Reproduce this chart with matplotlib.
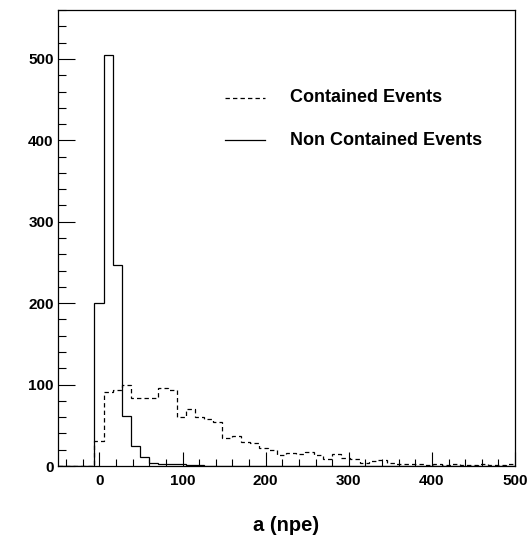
import matplotlib
matplotlib.use("Agg")
import matplotlib.pyplot as plt
import numpy as np
from matplotlib.ticker import MultipleLocator

# 50 bins of width 11 from -50 to 500
bin_edges = np.linspace(-50, 500, 51)

contained = [
    0, 0, 0, 0, 31, 91, 93, 100, 83, 84,
    83, 96, 93, 60, 70, 60, 58, 54, 35, 37,
    30, 28, 22, 20, 14, 16, 15, 17, 14, 8,
    15, 10, 8, 4, 6, 7, 4, 3, 2, 3,
    1, 2, 1, 2, 1, 1, 2, 1, 1, 2,
]
non_contained = [
    0, 0, 0, 0, 200, 505, 247, 61, 24, 11,
    4, 3, 2, 3, 1, 1, 0, 0, 0, 0,
    0, 0, 0, 0, 0, 0, 0, 0, 0, 0,
    0, 0, 0, 0, 0, 0, 0, 0, 0, 0,
    0, 0, 0, 0, 0, 0, 0, 0, 0, 0,
]
legend_labels = ["Contained Events", "Non Contained Events"]

plt.rcParams["font.family"] = ["Liberation Sans", "DejaVu Sans"]
plt.rcParams["font.weight"] = "bold"

fig = plt.figure(figsize=(5.31, 5.46), dpi=100)
ax = fig.add_axes([0.109, 0.1465, 0.861, 0.835])

dash = (0, (3.5, 2.5))
ax.stairs(contained, bin_edges, color="black", linewidth=0.9, linestyle=dash)
ax.stairs(non_contained, bin_edges, color="black", linewidth=0.9)

ax.set_xlim(-50, 500)
ax.set_ylim(0, 560)
ax.xaxis.set_major_locator(MultipleLocator(100))
ax.xaxis.set_minor_locator(MultipleLocator(20))
ax.yaxis.set_major_locator(MultipleLocator(100))
ax.yaxis.set_minor_locator(MultipleLocator(20))
ax.tick_params(which="both", direction="in", top=False, right=False, labelsize=11, width=0.8)
ax.tick_params(axis="y", which="major", length=12, pad=3)
ax.tick_params(axis="y", which="minor", length=6)
ax.tick_params(axis="x", which="major", length=10, pad=6)
ax.tick_params(axis="x", which="minor", length=5)
for lab in ax.get_xticklabels() + ax.get_yticklabels():
    lab.set_fontweight("bold")
for sp in ax.spines.values():
    sp.set_linewidth(0.9)

ax.set_xlabel("a (npe)", fontsize=14.5, fontweight="bold", labelpad=20)

# legend drawn by hand in axes coordinates
styles = [dash, "-"]
for i, (lab, ls) in enumerate(zip(legend_labels, styles)):
    y = 0.808 - i * 0.094
    ax.plot([0.365, 0.452], [y, y], transform=ax.transAxes, color="black",
            linewidth=0.9, linestyle=ls)
    ax.text(0.508, y, lab, transform=ax.transAxes, fontsize=13,
            fontweight="bold", va="center", ha="left")

fig.savefig("out.png", dpi=100)
